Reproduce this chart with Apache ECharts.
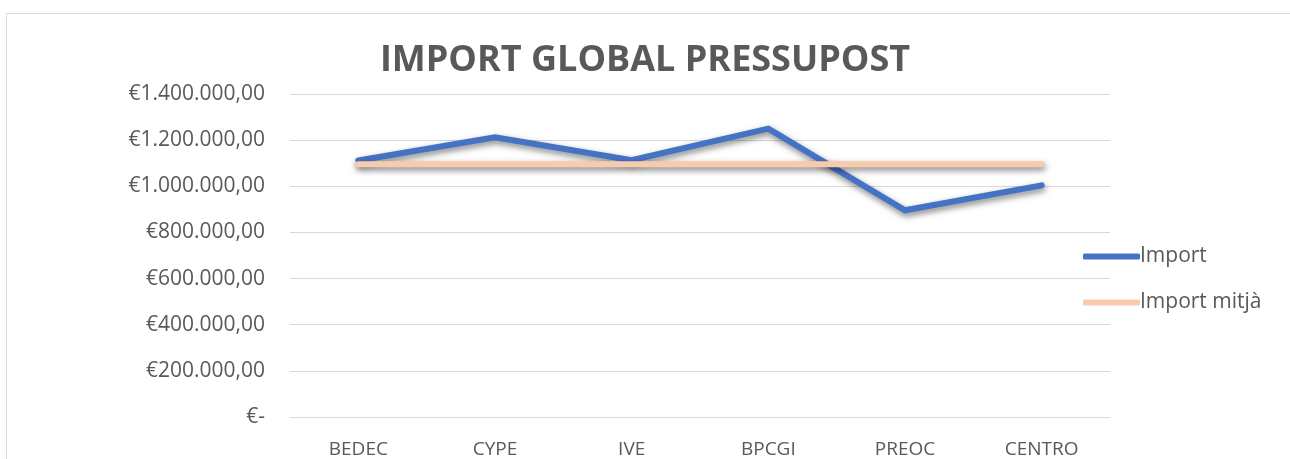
<!DOCTYPE html>
<html>
<head>
<meta charset="utf-8">
<script src="https://cdn.jsdelivr.net/npm/echarts@6/dist/echarts.min.js"></script>
<style>html,body{margin:0;padding:0;background:#fff}#c{width:1290px;height:459px}</style>
</head>
<body>
<div id="c"></div>
<script>
const categories = ['BEDEC', 'CYPE', 'IVE', 'BPCGI', 'PREOC', 'CENTRO'];
const importValues = [1112000, 1212000, 1113000, 1250000, 896000, 1004000];
const importMitja = [1095000, 1095000, 1095000, 1095000, 1095000, 1095000];
const titleText = 'IMPORT GLOBAL PRESSUPOST';
const seriesNames = ['Import', 'Import mitjà'];

function fmtEuro(v) {
  if (v === 0) return '€-';
  const s = Math.round(v).toString().replace(/\B(?=(\d{3})+(?!\d))/g, '.');
  return '€' + s + ',00';
}

const FONT = 'Open Sans';
const chart = echarts.init(document.getElementById('c'), null, {renderer: 'canvas'});
chart.setOption({
  animation: false,
  backgroundColor: '#fff',
  graphic: [{
    type: 'rect', shape: {x: 6.5, y: 13.5, width: 1300, height: 460},
    style: {fill: 'none', stroke: '#d9d9d9', lineWidth: 1}, silent: true, z: -1
  }],
  title: {
    text: titleText, left: 'center', top: 38,
    textStyle: {fontFamily: FONT, fontSize: 36, fontWeight: 'bold', color: '#595959'}
  },
  legend: {
    orient: 'vertical', left: 1078, top: 241, itemGap: 25,
    itemWidth: 57, itemHeight: 6,
    icon: 'roundRect',
    data: seriesNames,
    textStyle: {fontFamily: FONT, fontSize: 21, color: '#595959', padding: [0,0,0,-5]}
  },
  grid: {left: 290, right: 180, top: 94, bottom: 42, containLabel: false},
  xAxis: {
    type: 'category', data: categories, boundaryGap: true,
    axisLine: {show: true, lineStyle: {color: '#d9d9d9'}},
    axisTick: {show: false},
    axisLabel: {fontFamily: FONT, fontSize: 19, color: '#595959', margin: 23}
  },
  yAxis: {
    type: 'value', min: 0, max: 1400000, interval: 200000,
    axisLine: {show: false}, axisTick: {show: false},
    splitLine: {lineStyle: {color: '#d9d9d9', width: 1}},
    axisLabel: {fontFamily: FONT, fontSize: 21, color: '#595959', margin: 25, formatter: fmtEuro}
  },
  series: [
    {
      name: seriesNames[0], type: 'line', data: importValues, symbol: 'none',
      itemStyle: {color: '#4472C4'},
      lineStyle: {color: '#4472C4', width: 6, cap: 'round', join: 'miter',
        shadowColor: 'rgba(0,0,0,0.5)', shadowBlur: 6, shadowOffsetY: 3, shadowOffsetX: 1}
    },
    {
      name: seriesNames[1], type: 'line', data: importMitja, symbol: 'none',
      itemStyle: {color: '#F8CBAD'},
      lineStyle: {color: '#F8CBAD', width: 6, cap: 'round',
        shadowColor: 'rgba(0,0,0,0.5)', shadowBlur: 6, shadowOffsetY: 3, shadowOffsetX: 1}
    }
  ]
});
</script>
</body>
</html>
